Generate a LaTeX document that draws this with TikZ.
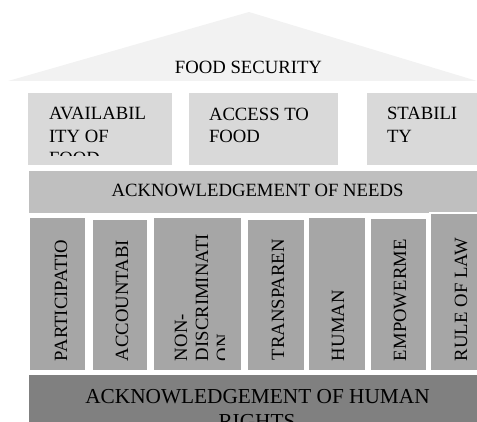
\documentclass[tikz,border=0pt]{standalone}
\usepackage{fontspec}
\setmainfont{Liberation Serif}
\definecolor{roofc}{HTML}{F2F2F2}
\definecolor{topc}{HTML}{D9D9D9}
\definecolor{needc}{HTML}{BFBFBF}
\definecolor{pilc}{HTML}{A6A6A6}
\definecolor{basec}{HTML}{808080}
\begin{document}
\begin{tikzpicture}[x=1pt,y=-1pt,
  blk/.style={draw=none,inner sep=0,outer sep=0,anchor=north west},
  pil/.style={fill=pilc,draw=white,line width=1.5pt},
  txt/.style={inner sep=0,outer sep=0,anchor=base west,font=\fontsize{18.7}{22}\selectfont},
  ctxt/.style={txt,anchor=base},
  vtxt/.style={txt,rotate=90}]
\useasboundingbox (0,0) rectangle (477,422);
\clip (0,0) rectangle (477,422);
% roof
\coordinate (rl) at (8,81);
\coordinate (rt) at (249,12);
\coordinate (rr) at (477,81);
\fill[roofc] (rl) -- (rt) -- (rr) -- cycle;
\node[ctxt] (fs) at (248.5,74) {FOOD SECURITY};
% top boxes
\node[blk,fill=topc,minimum width=144pt,minimum height=72pt] (b1) at (28,93) {};
\node[blk,fill=topc,minimum width=149pt,minimum height=72pt] (b2) at (189,93) {};
\node[blk,fill=topc,minimum width=112pt,minimum height=72pt] (b3) at (367,93) {};
\begin{scope}
\clip (28,93) rectangle (172,156);
\node[txt] (b1a) at (49,120) {AVAILABIL};
\node[txt] (b1b) at (49,143) {ITY OF};
\node[txt] (b1c) at (49,165) {FOOD};
\end{scope}
\node[txt] (b2a) at (209,121) {ACCESS TO};
\node[txt] (b2b) at (209,143) {FOOD};
\node[txt] (b3a) at (387,120) {STABILI};
\node[txt] (b3b) at (387,143) {TY};
% needs bar
\node[blk,fill=needc,minimum width=452pt,minimum height=42pt] (nb) at (29,171) {};
\node[ctxt] (nt) at (257.5,197) {ACKNOWLEDGEMENT OF NEEDS};
% pillars
\draw[pil] (29,217) rectangle (86,371);
\draw[pil] (92,219) rectangle (148,371);
\draw[pil] (153,217) rectangle (242,371);
\draw[pil] (247,219) rectangle (305,371);
\draw[pil] (308,217) rectangle (366,371);
\draw[pil] (370,218) rectangle (427,371);
\draw[pil] (430,213) rectangle (482,371);
\node[vtxt] (p1) at (67,361) {PARTICIPATIO};
\node[vtxt] (p2) at (128,361) {ACCOUNTABI};
\begin{scope}
\clip (153,217) rectangle (224,371);
\node[vtxt] (p3a) at (187,361) {NON-};
\node[vtxt] (p3b) at (208,361) {DISCRIMINATI};
\node[vtxt] (p3c) at (229,361) {ON};
\end{scope}
\node[vtxt] (p4) at (284,360) {TRANSPAREN};
\node[vtxt] (p5) at (344,361) {HUMAN};
\node[vtxt] (p6) at (406,361) {EMPOWERME};
\node[vtxt] (p7) at (467,361) {RULE OF LAW};
% base bar
\node[blk,fill=basec,minimum width=452pt,minimum height=50pt] (bb) at (29,375) {};
\node[ctxt,font=\fontsize{21.3}{25}\selectfont] (bt1) at (257.5,403) {ACKNOWLEDGEMENT OF HUMAN};
\node[ctxt,font=\fontsize{21.3}{25}\selectfont] (bt2) at (257,428) {RIGHTS};
\end{tikzpicture}
\end{document}
